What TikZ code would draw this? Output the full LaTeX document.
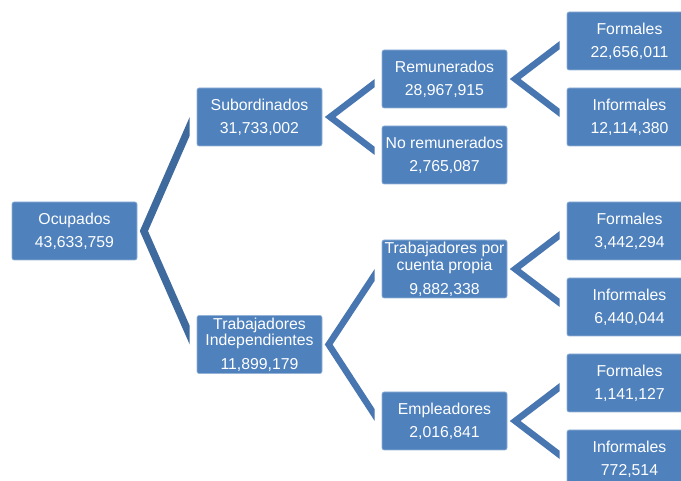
\documentclass[tikz,border=0pt]{standalone}
\usepackage{fontspec}
\setmainfont{Liberation Sans}
\usetikzlibrary{calc}
\definecolor{boxblue}{HTML}{4F81BD}
\definecolor{connA}{HTML}{3F6A9E}
\definecolor{connB}{HTML}{4776B0}
\tikzset{
  box/.style={rectangle, rounded corners=2pt, fill=boxblue, draw=boxblue!60!white,
    line width=0.6pt, minimum width=125pt, minimum height=58pt, inner sep=0pt,
    align=center, text=white, font=\fontsize{15.8}{23.3}\selectfont},
}
% color, thickness, parent, top child, bottom child
\newcommand\branch[5]{%
  \fill[#1]
    let \p1 = ([xshift=2.5pt]#3.east), \p2 = ([xshift=-7pt]#4.west), \p3 = ([xshift=-7pt]#5.west),
        \n1 = {\x2-\x1}, \n2 = {\y2-\y1}, \n3 = {veclen(\n1,\n2)},
        \n4 = {#2*\n3/\n1}, \n5 = {#2*\n3/\n2}
    in (\p1) -- (\p2) -- (\x2,{\y2-\n4}) -- ({\x1+\n5},\y1) -- (\x3,{\y3+\n4}) -- (\p3) -- cycle;
}
\begin{document}
\begin{tikzpicture}[x=1pt, y=-1pt]
  \clip (0,0) rectangle (681,481);
  \fill[white] (0,0) rectangle (681,481);
  \node[box] (oc) at (74.5,231) {Ocupados\\43,633,759};
  \node[box] (sub) at (259.5,117) {Subordinados\\31,733,002};
  \node[box] (ind) at (259.5,344.5) {Trabajadores\\[-7pt]Independientes\\11,899,179};
  \node[box] (rem) at (444.5,79) {Remunerados\\28,967,915};
  \node[box] (norem) at (444.5,155) {No remunerados\\2,765,087};
  \node[box] (cta) at (444.5,269) {Trabajadores por\\[-6pt]cuenta propia\\9,882,338};
  \node[box] (emp) at (444.5,421) {Empleadores\\2,016,841};
  \node[box] (f1) at (629.5,41) {Formales\\22,656,011};
  \node[box] (i1) at (629.5,117) {Informales\\12,114,380};
  \node[box] (f2) at (629.5,231) {Formales\\3,442,294};
  \node[box] (i2) at (629.5,307) {Informales\\6,440,044};
  \node[box] (f3) at (629.5,383) {Formales\\1,141,127};
  \node[box] (i3) at (629.5,459) {Informales\\772,514};
  \branch{connA}{7.5pt}{oc}{sub}{ind}
  \branch{connB}{6.5pt}{sub}{rem}{norem}
  \branch{connB}{6.5pt}{ind}{cta}{emp}
  \branch{connB}{6.5pt}{rem}{f1}{i1}
  \branch{connB}{6.5pt}{cta}{f2}{i2}
  \branch{connB}{6.5pt}{emp}{f3}{i3}
\end{tikzpicture}
\end{document}
